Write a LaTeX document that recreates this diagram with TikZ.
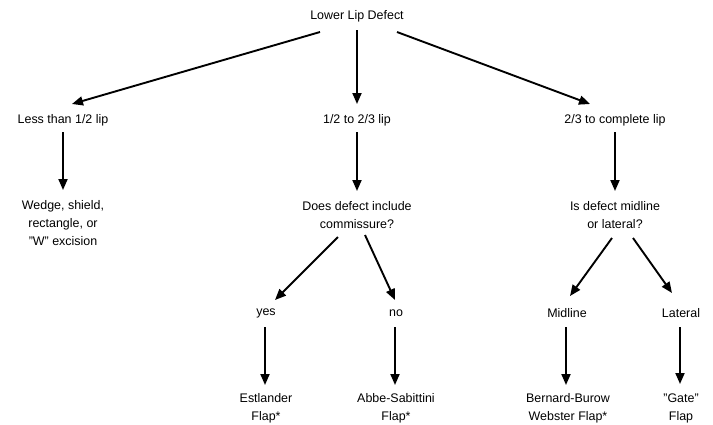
\documentclass[tikz,border=0pt]{standalone}
\usepackage{fontspec}
\setmainfont{Liberation Sans}
\usepackage{tikz}
\usetikzlibrary{calc,arrows.meta}
\definecolor{ink}{HTML}{000000}
\tikzset{
  lab/.style={text=ink, inner sep=0pt, align=center, font=\fontsize{12.5}{18}\selectfont},
  arr/.style={draw=ink, line width=1.9pt, -{Triangle[length=11bp,width=9bp]}}
}
\begin{document}
\begin{tikzpicture}[x=1bp, y=-1bp, line cap=butt]
  \useasboundingbox (0,0) rectangle (713,424);
  \node[lab] (top) at (357,16) {Lower Lip Defect};
  \node[lab] (less) at (63,120) {Less than 1/2 lip};
  \node[lab] (half) at (357,120) {1/2 to 2/3 lip};
  \node[lab] (full) at (615,120) {2/3 to complete lip};
  \node[lab] (wedge) at (63,223) {Wedge, shield,\\rectangle, or\\"W" excision};
  \node[lab] (comm) at (357,215) {Does defect include\\commissure?};
  \node[lab] (midq) at (615,215) {Is defect midline\\or lateral?};
  \node[lab] (yes) at (266,313) {yes};
  \node[lab] (no) at (396,313) {no};
  \node[lab] (mid) at (567,313) {Midline};
  \node[lab] (lat) at (681,313) {Lateral};
  \node[lab] (estl) at (266,408) {Estlander\\Flap*};
  \node[lab] (abbe) at (396,408) {Abbe-Sabittini\\Flap*};
  \node[lab] (bern) at (568,408) {Bernard-Burow\\Webster Flap*};
  \node[lab] (gate) at (681,408) {"Gate"\\Flap};
  % first split
  \draw[arr] ($(top)+(-37,16)$) -- ($(less)+(9,-16)$);
  \draw[arr] ($(top)+(0,14)$) -- ($(half)+(0,-16)$);
  \draw[arr] ($(top)+(40,16)$) -- ($(full)+(-25,-16)$);
  \draw[arr] ($(less)+(0,12)$) -- ($(wedge)+(0,-33)$);
  \draw[arr] ($(half)+(0,12)$) -- ($(comm)+(0,-24)$);
  \draw[arr] ($(full)+(0,12)$) -- ($(midq)+(0,-24)$);
  % second split
  \draw[arr] ($(comm)+(-19,22)$) -- ($(yes)+(9,-13)$);
  \draw[arr] ($(comm)+(8,20)$) -- ($(no)+(-1,-13)$);
  \draw[arr] ($(midq)+(-3,23)$) -- ($(mid)+(3,-17)$);
  \draw[arr] ($(midq)+(18,23)$) -- ($(lat)+(-9,-20)$);
  \draw[arr] ($(yes)+(-1,14)$) -- ($(estl)+(-1,-23)$);
  \draw[arr] ($(no)+(-1,14)$) -- ($(abbe)+(-1,-23)$);
  \draw[arr] ($(mid)+(-1,14)$) -- ($(bern)+(-2,-23)$);
  \draw[arr] ($(lat)+(-1,14)$) -- ($(gate)+(-1,-24)$);
\end{tikzpicture}
\end{document}
